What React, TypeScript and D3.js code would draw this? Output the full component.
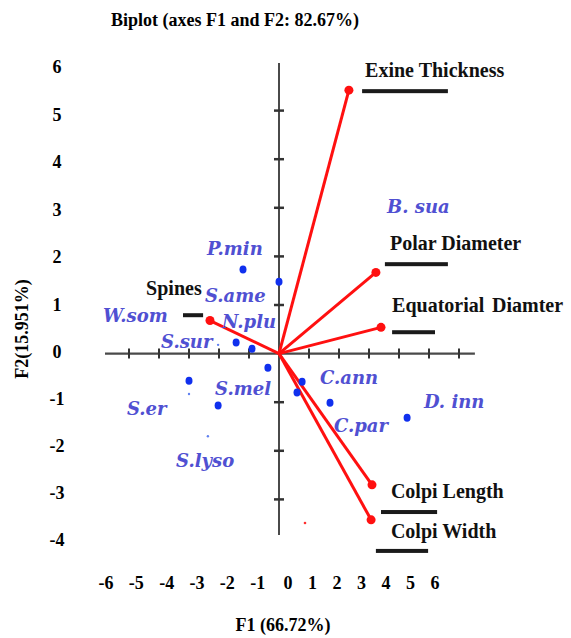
import React from "react";
import * as d3 from "d3";

// variable loadings (F1, F2)
const variables = ["Exine Thickness", "Polar Diameter", "Equatorial", "Colpi Length", "Colpi Width", "Spines"];
const varF1 = [2.33, 3.23, 3.4, 3.1, 3.07, -2.3];
const varF2 = [5.42, 1.67, 0.54, -2.7, -3.42, 0.68];

// observation scores
const obsF1 = [-1.2, 0.0, -1.43, -0.9, -0.37, -3.0, -2.03, 0.77, 0.6, 1.7, 4.27];
const obsF2 = [1.73, 1.48, 0.23, 0.1, -0.29, -0.56, -1.07, -0.58, -0.8, -1.01, -1.32];

// faint specks
const speckF1 = [-2.03, -3.0, -2.37];
const speckF2 = [0.18, -0.83, -1.7];

// species names
const species = ["P.min", "S.ame", "W.som", "N.plu", "S.sur", "S.mel", "S.er", "S.lyso", "C.ann", "C.par", "D. inn", "B. sua"];

// tick labels
const xTicks = [-6, -5, -4, -3, -2, -1, 0, 1, 2, 3, 4, 5, 6];
const yTicks = [6, 5, 4, 3, 2, 1, 0, -1, -2, -3, -4];
const xAxisTicks = [-5, -4, -3, -2, -1, 1, 2, 3, 4, 5, 6];
const yAxisTicks = [5, 4, 3, 2, 1, -1, -2, -3];

// label placement (data units)
const speciesLabelF1 = [-2.4, -2.47, -5.87, -1.9, -3.93, -2.13, -5.07, -3.43, 1.37, 1.83, 4.83, 3.6];
const speciesLabelF2 = [2.02, 1.07, 0.64, 0.53, 0.12, -0.85, -1.26, -2.33, -0.62, -1.62, -1.11, 2.9];
const varLabelF1 = [2.87, 3.7, 3.77, 3.73, 3.73, -4.43];
const varLabelF2 = [5.69, 2.13, 0.86, -2.97, -3.79, 1.21];
const barF1Start = [2.77, 3.53, 3.77, 3.4, 3.23, -3.2];
const barF1End = [5.63, 5.63, 5.2, 5.27, 4.97, -2.53];
const barF2 = [5.4, 1.84, 0.44, -3.26, -4.06, 0.79];

const W = 571;
const H = 638;

const App = () => {
  const x = d3.scaleLinear().domain([-6, 6]).range([99, 459]);
  const y = d3.scaleLinear().domain([-4, 6]).range([548, 62]);
  // printed tick labels outside the plot are spaced a bit differently
  const xLab = d3.scaleLinear().domain([-6, 0, 6]).range([106, 288, 435]);
  const yLab = d3.scaleLinear().domain([-4, 0, 6]).range([540, 352, 67]);

  const serif = "'Liberation Serif', serif";
  const blue = "#5050d2";
  const axisCol = "#4a4a4a";

  return (
    <svg width={W} height={H} style={{ position: "absolute", left: 0, top: 0, background: "#fff" }}>
      <text x={235} y={26} textAnchor="middle" fontFamily={serif} fontWeight="bold" fontSize={18}>
        Biplot (axes F1 and F2: 82.67%)
      </text>

      {/* axes through origin */}
      <line x1={x(-5.8)} x2={x(6.53)} y1={y(0)} y2={y(0)} stroke={axisCol} strokeWidth={2.2} />
      <line x1={x(0)} x2={x(0)} y1={y(5.98)} y2={y(-3.73)} stroke={axisCol} strokeWidth={2} />
      {xAxisTicks.map((t) => (
        <line key={"xt" + t} x1={x(t)} x2={x(t)} y1={y(0) - 5} y2={y(0) + 5} stroke="#333" strokeWidth={2} />
      ))}
      {yAxisTicks.map((t) => (
        <line key={"yt" + t} x1={x(0) - 5} x2={x(0) + 5} y1={y(t)} y2={y(t)} stroke="#333" strokeWidth={2.5} />
      ))}

      {/* tick labels */}
      {yTicks.map((t) => (
        <text key={"yl" + t} x={57} y={yLab(t) + 6} textAnchor="middle" fontFamily={serif} fontWeight="bold" fontSize={18}>
          {t}
        </text>
      ))}
      {xTicks.map((t) => (
        <text key={"xl" + t} x={xLab(t)} y={589} textAnchor="middle" fontFamily={serif} fontWeight="bold" fontSize={18}>
          {t}
        </text>
      ))}
      <text x={283} y={631} textAnchor="middle" fontFamily={serif} fontWeight="bold" fontSize={18}>
        F1 (66.72%)
      </text>
      <text transform="translate(28,329) rotate(-90)" textAnchor="middle" fontFamily={serif} fontWeight="bold" fontSize={18}>
        F2(15.951%)
      </text>

      {/* loading vectors */}
      {variables.map((v, i) => (
        <g key={"v" + v}>
          <line x1={x(0)} y1={y(0)} x2={x(varF1[i])} y2={y(varF2[i])} stroke="#ff1010" strokeWidth={3} />
          <circle cx={x(varF1[i])} cy={y(varF2[i])} r={4.5} fill="#ff1010" />
          <rect
            x={x(barF1Start[i])}
            y={y(barF2[i]) - 2}
            width={x(barF1End[i]) - x(barF1Start[i])}
            height={4}
            fill="#1a1a1a"
          />
          <text x={x(varLabelF1[i])} y={y(varLabelF2[i])} fontFamily={serif} fontWeight="bold" fontSize={20} fill="#111">
            {v}
          </text>
        </g>
      ))}
      <text x={492} y={y(varLabelF2[2])} fontFamily={serif} fontWeight="bold" fontSize={20} fill="#111">
        Diamter
      </text>

      {/* observations */}
      {obsF1.map((f, i) => (
        <ellipse key={"o" + i} cx={x(f)} cy={y(obsF2[i])} rx={3.5} ry={4} fill="#1030ee" />
      ))}
      {speckF1.map((f, i) => (
        <circle key={"s" + i} cx={x(f)} cy={y(speckF2[i])} r={1.2} fill="#6080f0" />
      ))}
      <circle cx={305} cy={523} r={1.3} fill="#ff3030" />

      {species.map((s, i) => (
        <text
          key={"sp" + s}
          x={x(speciesLabelF1[i])}
          y={y(speciesLabelF2[i])}
          fontFamily="'DejaVu Serif', serif"
          fontWeight="bold"
          fontStyle="italic"
          fontSize={18}
          fill={blue}
        >
          {s}
        </text>
      ))}
    </svg>
  );
};

export default App;
